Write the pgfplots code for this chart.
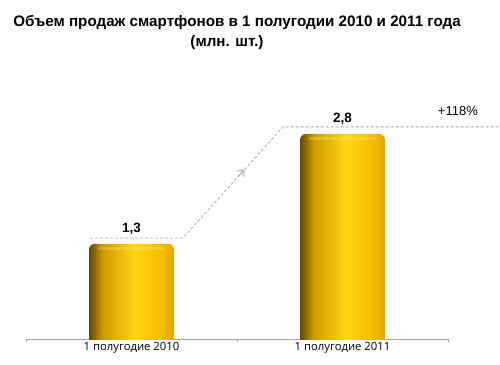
\documentclass[border=0pt]{standalone}
\usepackage{fontspec}
\setmainfont{Liberation Sans}
\newfontfamily\tickfont{Open Sans}
\usepackage{pgfplots}
\pgfplotsset{compat=1.18}
\usetikzlibrary{arrows.meta}
\definecolor{dashgray}{RGB}{170,170,170}
\definecolor{axgray}{RGB}{165,165,165}
\definecolor{ca}{RGB}{100,72,0}
\definecolor{cb}{RGB}{205,155,0}
\definecolor{cc}{RGB}{255,214,20}
\definecolor{cd}{RGB}{246,190,0}
\definecolor{ce}{RGB}{228,168,0}
\definecolor{hl}{RGB}{255,236,110}
\pgfdeclarehorizontalshading{barshade}{100bp}{color(0bp)=(ca); color(25bp)=(ca); color(33bp)=(cb); color(52bp)=(cc); color(66bp)=(cd); color(75bp)=(ce); color(100bp)=(ce)}
\pgfplotsset{goldbar/.style={ybar, bar width=85pt, bar shift=0pt, draw=none, shade, shading=barshade}}
\begin{document}
\begin{tikzpicture}
\path[use as bounding box] (0,0) rectangle (500pt,364pt);
\node[font=\bfseries\fontsize{15.2}{18}\selectfont, anchor=base] at (237pt,337pt) {Объем продаж смартфонов в 1 полугодии 2010 и 2011 года};
\node[font=\bfseries\fontsize{15.2}{18}\selectfont, anchor=base] at (227pt,317pt) {(млн. шт.)};
\begin{axis}[
  at={(26pt,25pt)}, anchor=south west,
  scale only axis, width=422pt, height=293pt,
  xmin=0, xmax=2, ymin=0, ymax=4,
  axis x line*=bottom, axis y line=none, ytick=\empty,
  xtick={0.5,1.5},
  xticklabels={1 полугодие 2010, 1 полугодие 2011},
  minor xtick={0,1,2},
  major tick length=0pt, minor tick length=3pt,
  tick align=outside,
  x axis line style={axgray, line width=0.8pt, -},
  every tick/.style={axgray, line width=0.8pt},
  xticklabel style={font=\tickfont\fontsize{11.3}{13}\selectfont, text=black, yshift=0pt},
  clip=false,
]
\addplot[goldbar, rounded corners=6pt] coordinates {(0.5,1.3)};
\addplot[goldbar] coordinates {(0.5,0.15)};
\addplot[goldbar, rounded corners=6pt] coordinates {(1.5,2.8)};
\addplot[goldbar] coordinates {(1.5,0.15)};
\addplot[hl, opacity=0.3, line width=3pt] coordinates {(0.34,1.235) (0.66,1.235)};
\addplot[hl, opacity=0.3, line width=3pt] coordinates {(1.34,2.735) (1.66,2.735)};
\addplot[dashgray, dash pattern=on 3pt off 2pt, line width=0.8pt] coordinates {(0.303,1.38) (0.744,1.38) (1.218,2.896) (2.246,2.896)};
\addplot[dashgray, solid, line width=1pt, -{Straight Barb[length=5pt,width=9pt,line width=1pt]}] coordinates {(1.005,2.215) (1.035,2.311)};
\node[font=\bfseries\fontsize{13.5}{15}\selectfont] at (axis cs:0.5,1.50) {1,3};
\node[font=\bfseries\fontsize{13.5}{15}\selectfont] at (axis cs:1.5,3.0) {2,8};
\node[font=\fontsize{13}{15}\selectfont] at (axis cs:2.047,3.115) {+118\%};
\end{axis}
\end{tikzpicture}
\end{document}
